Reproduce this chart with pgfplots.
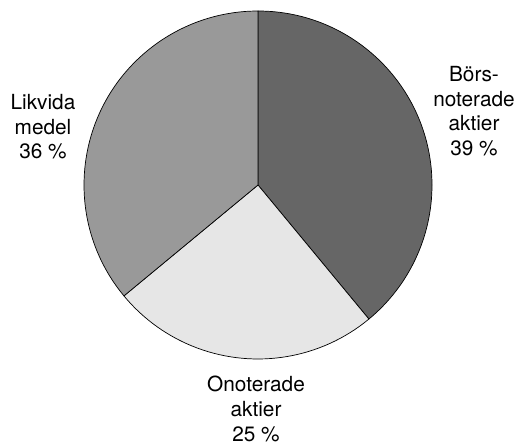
\documentclass[border=0pt]{standalone}
\usepackage{fontspec}
\setmainfont{TeX Gyre Heros}
\usepackage{pgfplots}
\usepackage{pgfplotstable}
\pgfplotsset{compat=1.18}
\definecolor{cA}{HTML}{666666}
\definecolor{cB}{HTML}{E6E6E6}
\definecolor{cC}{HTML}{999999}
\pgfplotstableread{
share
39
25
36
}\piedata
\begin{document}
\begin{tikzpicture}[lbl/.style={anchor=base,inner sep=0pt,font=\fontsize{20.8bp}{24.4bp}\selectfont}]
\pgfplotstablegetelem{0}{share}\of\piedata\global\let\sA\pgfplotsretval
\pgfplotstablegetelem{1}{share}\of\piedata\global\let\sB\pgfplotsretval
\pgfplotstablegetelem{2}{share}\of\piedata\global\let\sC\pgfplotsretval
\pgfmathsetmacro{\aA}{90-3.6*\sA}\global\let\aA\aA
\pgfmathsetmacro{\aB}{\aA-3.6*\sB}\global\let\aB\aB
\pgfmathsetmacro{\aC}{\aB-3.6*\sC}\global\let\aC\aC
\begin{axis}[width=519bp,height=445bp,scale only axis,
  xmin=0,xmax=519,ymin=0,ymax=445,enlargelimits=false,hide axis,clip=false]
\coordinate (SW) at (axis cs:0,0);
\coordinate (NE) at (axis cs:519,445);
\filldraw[fill=cA,draw=black,line width=0.7bp,line join=round]
  (axis cs:258,260) -- ++(90:174bp) arc[start angle=90,end angle=\aA,radius=174bp] -- cycle;
\filldraw[fill=cB,draw=black,line width=0.7bp,line join=round]
  (axis cs:258,260) -- ++(\aA:174bp) arc[start angle=\aA,end angle=\aB,radius=174bp] -- cycle;
\filldraw[fill=cC,draw=black,line width=0.7bp,line join=round]
  (axis cs:258,260) -- ++(\aB:174bp) arc[start angle=\aB,end angle=\aC,radius=174bp] -- cycle;
\node[lbl] at (axis cs:474,363) {Börs-};
\node[lbl] at (axis cs:474,338.5) {noterade};
\node[lbl] at (axis cs:474,314) {aktier};
\node[lbl] at (axis cs:474,289.7) {\sA\ \%};
\node[lbl] at (axis cs:43,335) {Likvida};
\node[lbl] at (axis cs:43,310.5) {medel};
\node[lbl] at (axis cs:43,286) {\sC\ \%};
\node[lbl] at (axis cs:256,53.3) {Onoterade};
\node[lbl] at (axis cs:256,28.3) {aktier};
\node[lbl] at (axis cs:256,3.3) {\sB\ \%};
\end{axis}
\pgfresetboundingbox
\useasboundingbox (SW) rectangle (NE);
\end{tikzpicture}
\end{document}
